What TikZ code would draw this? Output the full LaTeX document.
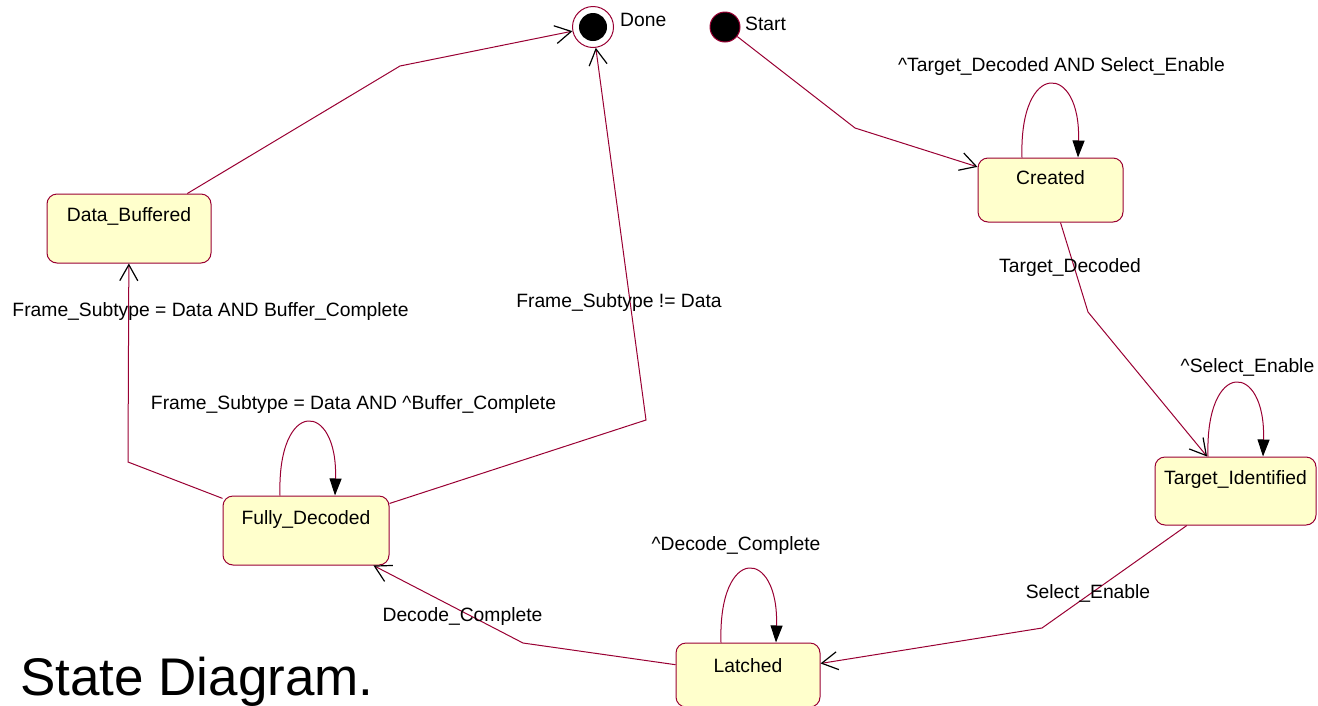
\documentclass[tikz,border=0pt]{standalone}
\usepackage{fontspec}
\setmainfont{Liberation Sans}
\usetikzlibrary{arrows.meta,calc}
\definecolor{edgecol}{RGB}{153,0,51}
\definecolor{statefill}{RGB}{255,255,204}
\newcommand{\lblfont}{\fontsize{19.3}{23}\selectfont}
\begin{document}
\begin{tikzpicture}[x=1pt,y=-1pt,
  state/.style={draw=edgecol, fill=statefill, rounded corners=10pt, line width=1pt, inner sep=0pt},
  statename/.style={anchor=base, font=\lblfont, inner sep=0pt},
  lbl/.style={anchor=base, font=\lblfont, inner sep=0pt},
  trans/.style={draw=edgecol, line width=1pt, -{Straight Barb[length=16pt,width=18pt,color=black,line width=1.2pt]}},
  selfloop/.style={draw=edgecol, line width=1pt, -{Triangle[length=17pt,width=12pt,color=black]}}
]
\useasboundingbox (0,0) rectangle (1318,705);
\clip (0,0) rectangle (1318,705);

% states
\node[state, minimum width=145pt, minimum height=64pt] (created) at (1050.5,190) {};
\node[statename] (createdtext) at (1050.5,184) {Created};
\node[state, minimum width=161pt, minimum height=68pt] (ti) at (1235.5,491) {};
\node[statename] (titext) at (1235.5,484) {Target\_Identified};
\node[state, minimum width=144pt, minimum height=64pt] (latched) at (748,675) {};
\node[statename] (latchedtext) at (748,672) {Latched};
\node[state, minimum width=166pt, minimum height=69pt] (fd) at (306,530.5) {};
\node[statename] (fdtext) at (306,524) {Fully\_Decoded};
\node[state, minimum width=164pt, minimum height=69pt] (db) at (129,228.5) {};
\node[statename] (dbtext) at (129,221) {Data\_Buffered};

% pseudo states
\node[circle, draw=edgecol, fill=white, line width=1pt, minimum size=41pt, inner sep=0pt] (done) at (593,27) {};
\node[circle, fill=black, minimum size=28pt, inner sep=0pt] (donedot) at (done) {};
\node[circle, draw=edgecol, fill=black, line width=1pt, minimum size=30pt, inner sep=0pt] (start) at (725,27) {};
\node[anchor=base west, font=\lblfont, inner sep=0pt] (donelbl) at (620,26) {Done};
\node[anchor=base west, font=\lblfont, inner sep=0pt] (startlbl) at (745,30) {Start};

% transitions
\draw[trans] (start) -- (855,128) -- (created);
\draw[trans] (created) -- (1088,312) -- (ti);
\draw[trans] (ti) -- (1042,628) -- (latched);
\draw[trans] (latched) -- (523,643) -- (fd);
\draw[trans] (fd) -- (128,462) -- (db);
\draw[trans] (fd) -- (646,420) -- (done);
\draw[trans] (db) -- (400,66) -- (done);

% self loops
\draw[selfloop] ([xshift=-28.5pt]created.north) .. controls +(-3,-98) and +(3,-95) .. ([xshift=27.5pt]created.north);
\draw[selfloop] ([xshift=-27.5pt]ti.north) .. controls +(-3,-98) and +(3,-95) .. ([xshift=27.5pt]ti.north);
\draw[selfloop] ([xshift=-27pt]latched.north) .. controls +(-3,-98) and +(3,-95) .. ([xshift=28pt]latched.north);
\draw[selfloop] ([xshift=-26pt]fd.north) .. controls +(-3,-98) and +(3,-95) .. ([xshift=29pt]fd.north);

% labels
\node[lbl] (l1) at (1061.5,71) {\textasciicircum Target\_Decoded AND Select\_Enable};
\node[lbl] (l2) at (1070,272) {Target\_Decoded};
\node[lbl] (l3) at (1247.5,372) {\textasciicircum Select\_Enable};
\node[lbl] (l4) at (1088,598) {Select\_Enable};
\node[lbl] (l5) at (736,550) {\textasciicircum Decode\_Complete};
\node[lbl] (l6) at (462.5,621) {Decode\_Complete};
\node[lbl] (l7) at (353.5,409) {Frame\_Subtype = Data AND \textasciicircum Buffer\_Complete};
\node[lbl] (l8) at (210.5,316) {Frame\_Subtype = Data AND Buffer\_Complete};
\node[lbl] (l9) at (619,307) {Frame\_Subtype != Data};

% title
\node[anchor=base west, font=\fontsize{53}{60}\selectfont, inner sep=0pt] (title) at (20,695) {State Diagram.};
\end{tikzpicture}
\end{document}
